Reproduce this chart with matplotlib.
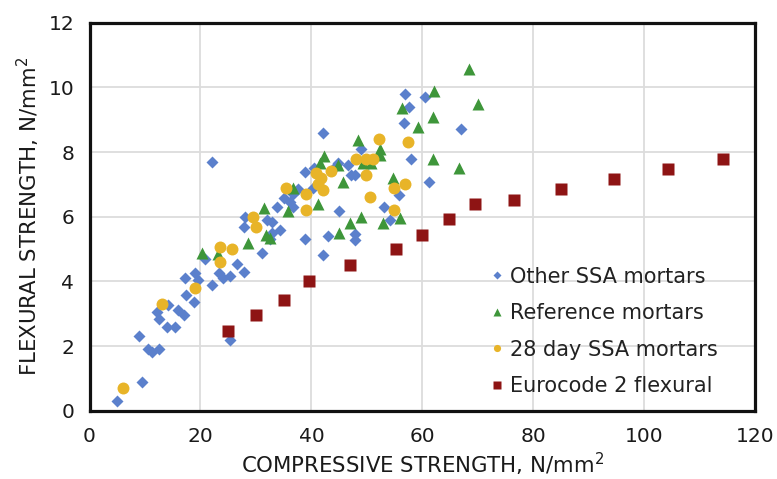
import matplotlib
matplotlib.use("Agg")
import matplotlib.pyplot as plt
from matplotlib import font_manager

# Pick a narrow sans face when one is installed
_names = {f.name for f in font_manager.fontManager.ttflist}
FONT = "Liberation Sans Narrow" if "Liberation Sans Narrow" in _names else "DejaVu Sans"
plt.rcParams["font.family"] = [FONT, "DejaVu Sans"]

# ---- data: compressive strength (x) vs flexural strength (y), N/mm2 ----
other_x = [5.0, 9.5, 9.0, 10.6, 11.2, 12.6, 12.1, 12.6, 14.2, 14.0, 15.4, 16.0, 17.0,
           17.4, 18.8, 17.2, 19.0, 19.6, 22.0, 20.8, 22.0, 23.3, 24.0, 25.3, 25.4,
           26.6, 27.8, 27.9, 28.1, 31.0, 32.0, 32.8, 32.6, 34.3, 33.8, 35.0, 36.1,
           36.7, 37.5, 38.8, 38.8, 42.0, 42.1, 43.0, 44.8, 45.0, 47.2, 47.8, 49.0,
           47.8, 47.8, 53.1, 54.1, 55.7, 56.8, 57.6, 56.6, 57.9, 60.5, 61.1, 66.9,
           32.8, 36.6, 40.2, 44.0, 46.5, 40.5]
other_y = [0.3, 0.9, 2.3, 1.9, 1.8, 1.9, 3.05, 2.85, 3.27, 2.6, 2.6, 3.1, 2.95,
           3.58, 3.37, 4.1, 4.25, 4.05, 7.7, 4.68, 3.9, 4.25, 4.1, 2.2, 4.18,
           4.55, 4.28, 5.67, 6.0, 4.88, 5.9, 5.85, 5.3, 5.59, 6.29, 6.57, 6.47,
           6.7, 6.85, 7.39, 5.3, 4.8, 8.6, 5.4, 7.65, 6.19, 7.3, 7.3, 8.08,
           5.46, 5.28, 6.29, 5.9, 6.67, 9.8, 9.4, 8.9, 7.8, 9.7, 7.08, 8.7,
           5.49, 6.3, 6.9, 7.5, 7.6, 7.5]

ref_x = [20.2, 23.2, 28.6, 31.5, 31.8, 32.5, 35.7, 36.7, 41.2, 41.5, 42.2, 44.8,
         45.6, 45.0, 46.9, 49.0, 48.4, 49.3, 50.8, 52.4, 52.4, 54.7, 52.9, 55.9,
         56.3, 59.2, 61.9, 62.1, 61.9, 66.6, 68.4, 70.0]
ref_y = [4.87, 4.85, 5.18, 6.26, 5.43, 5.33, 6.19, 6.88, 6.39, 7.65, 7.88, 7.6,
         7.08, 5.49, 5.8, 6.0, 8.37, 7.65, 7.65, 8.1, 7.9, 7.19, 5.8, 5.97,
         9.35, 8.78, 9.09, 9.9, 7.8, 7.5, 10.58, 9.48]

ssa28_x = [6.0, 13.0, 19.0, 23.5, 23.5, 25.7, 29.5, 30.0, 35.4, 39.0, 39.0, 40.9,
           41.8, 42.1, 41.2, 43.6, 48.1, 49.9, 51.1, 49.9, 52.2, 50.5, 54.9, 56.9,
           54.9, 57.4]
ssa28_y = [0.7, 3.3, 3.8, 5.07, 4.6, 5.0, 6.0, 5.68, 6.88, 6.69, 6.2, 7.34,
           7.19, 6.84, 7.0, 7.4, 7.8, 7.77, 7.77, 7.3, 8.39, 6.6, 6.9, 7.0,
           6.21, 8.3]

ec2_x = [25.0, 30.0, 35.0, 39.5, 47.0, 55.3, 60.0, 64.8, 69.4, 76.5, 85.0, 94.5,
         104.2, 114.2]
ec2_y = [2.47, 2.95, 3.42, 4.02, 4.52, 5.0, 5.42, 5.92, 6.39, 6.52, 6.85, 7.18,
         7.48, 7.8]

x_ticks = [0, 20, 40, 60, 80, 100, 120]
y_ticks = [0, 2, 4, 6, 8, 10, 12]

fig = plt.figure(figsize=(7.77, 4.79), dpi=100)
ax = fig.add_axes([0.1152, 0.1426, 0.857, 0.81])

ax.plot(other_x, other_y, "D", color="#5B80CC", ms=6.3, mec="none",
        label="Other SSA mortars", zorder=3)
ax.plot(ref_x, ref_y, "^", color="#3E963A", ms=8.5, mec="none",
        label="Reference mortars", zorder=4)
ax.plot(ssa28_x, ssa28_y, "o", color="#E8B428", ms=8.6, mec="none",
        label="28 day SSA mortars", zorder=5)
ax.plot(ec2_x, ec2_y, "s", color="#8E1414", ms=8.6, mec="none",
        label="Eurocode 2 flexural", zorder=6)

ax.set_xlim(0, 120)
ax.set_ylim(0, 12)
ax.set_xticks(x_ticks)
ax.set_yticks(y_ticks)
ax.grid(True, color="#DCDCDC", linewidth=1.3, zorder=0)
ax.set_axisbelow(True)
ax.tick_params(length=0, labelsize=14.5, colors="#1A1A1A")
ax.tick_params(axis="x", pad=12)
ax.tick_params(axis="y", pad=11)
for s in ax.spines.values():
    s.set_linewidth(2.3)
    s.set_color("#111111")

ax.set_xlabel("COMPRESSIVE STRENGTH, N/mm$^2$", fontsize=15.3, color="#1A1A1A",
              labelpad=3)
ax.set_ylabel("FLEXURAL STRENGTH, N/mm$^2$", fontsize=15.3, color="#1A1A1A",
              labelpad=5)

leg = ax.legend(loc="lower left", bbox_to_anchor=(0.578, -0.005), frameon=False,
                fontsize=15, markerscale=0.6, handlelength=0.6, handletextpad=0.3,
                labelspacing=0.79, borderpad=0.3)
for t in leg.get_texts():
    t.set_color("#222222")

fig.savefig("out.png", dpi=100)
